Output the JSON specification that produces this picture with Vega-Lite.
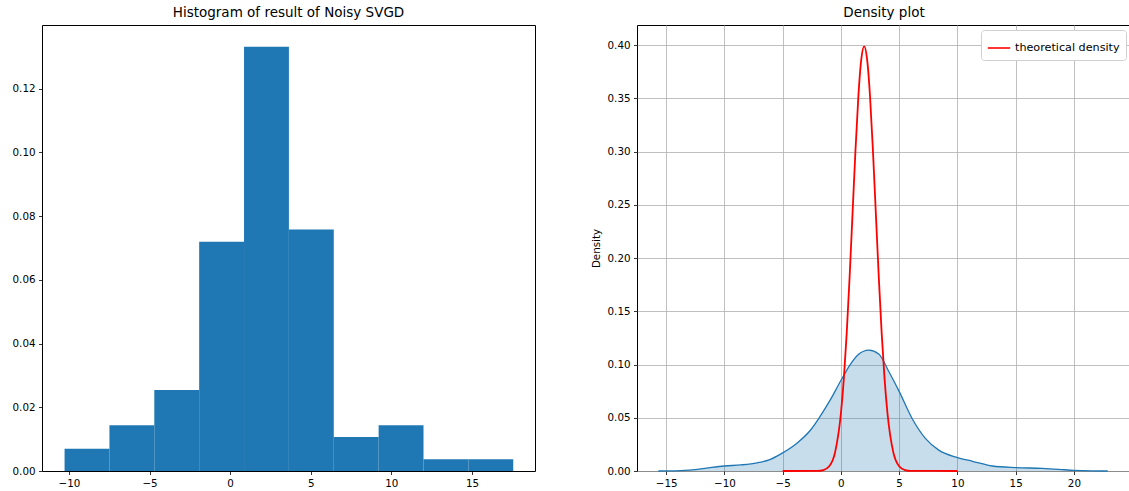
{
  "$schema": "https://vega.github.io/schema/vega-lite/v6.json",
  "background": "white",
  "padding": {"left": 11, "top": 5, "right": 0, "bottom": 0},
  "spacing": 54,
  "resolve": {"legend": {"color": "independent"}},
  "config": {
    "font": "DejaVu Sans",
    "view": {"stroke": "black", "strokeWidth": 1},
    "axis": {
      "labelFont": "DejaVu Sans", "labelFontSize": 10.3, "labelColor": "black",
      "tickColor": "black", "tickSize": 3.5, "tickWidth": 0.8, "labelPadding": 3.5,
      "domain": false, "grid": false,
      "titleFont": "DejaVu Sans", "titleFontSize": 10.3, "titleFontWeight": "normal", "titleColor": "black"
    },
    "title": {"font": "DejaVu Sans", "fontSize": 13.5, "fontWeight": "normal", "color": "black", "offset": 6}
  },
  "datasets": {
    "hist": [
      {"bin_start": -10.27, "bin_end": -7.487, "density": 0.0070},
      {"bin_start": -7.487, "bin_end": -4.704, "density": 0.0144},
      {"bin_start": -4.704, "bin_end": -1.921, "density": 0.0254},
      {"bin_start": -1.921, "bin_end": 0.862, "density": 0.0720},
      {"bin_start": 0.862, "bin_end": 3.645, "density": 0.1332},
      {"bin_start": 3.645, "bin_end": 6.428, "density": 0.0758},
      {"bin_start": 6.428, "bin_end": 9.211, "density": 0.0107},
      {"bin_start": 9.211, "bin_end": 11.994, "density": 0.0144},
      {"bin_start": 11.994, "bin_end": 14.777, "density": 0.0037},
      {"bin_start": 14.777, "bin_end": 17.56, "density": 0.0037}
    ],
    "kde": [
      {"x": -15.67, "y": 0.0},
      {"x": -15.0, "y": 0.0001},
      {"x": -13.8, "y": 0.0004},
      {"x": -12.3, "y": 0.0016},
      {"x": -11.2, "y": 0.0032},
      {"x": -10.0, "y": 0.0047},
      {"x": -8.6, "y": 0.0057},
      {"x": -7.2, "y": 0.0076},
      {"x": -6.1, "y": 0.0107},
      {"x": -5.0, "y": 0.0170},
      {"x": -3.8, "y": 0.0259},
      {"x": -2.6, "y": 0.0385},
      {"x": -1.8, "y": 0.0510},
      {"x": -0.9, "y": 0.0670},
      {"x": 0.0, "y": 0.0850},
      {"x": 0.8, "y": 0.1000},
      {"x": 1.5, "y": 0.1095},
      {"x": 2.4, "y": 0.1136},
      {"x": 3.25, "y": 0.1100},
      {"x": 4.1, "y": 0.0937},
      {"x": 5.0, "y": 0.0748},
      {"x": 6.1, "y": 0.0495},
      {"x": 7.25, "y": 0.0306},
      {"x": 8.4, "y": 0.0196},
      {"x": 10.0, "y": 0.0126},
      {"x": 11.3, "y": 0.0091},
      {"x": 13.0, "y": 0.0047},
      {"x": 15.0, "y": 0.0032},
      {"x": 17.3, "y": 0.0025},
      {"x": 18.7, "y": 0.0016},
      {"x": 20.0, "y": 0.0006},
      {"x": 21.5, "y": 0.0001},
      {"x": 22.9, "y": 0.0}
    ],
    "theory": [
      {"x": -5.0, "y": 0.0},
      {"x": -2.0, "y": 0.0001},
      {"x": -1.5, "y": 0.0009},
      {"x": -1.0, "y": 0.0044},
      {"x": -0.5, "y": 0.0175},
      {"x": 0.0, "y": 0.0540},
      {"x": 0.25, "y": 0.0863},
      {"x": 0.5, "y": 0.1295},
      {"x": 0.75, "y": 0.1826},
      {"x": 1.0, "y": 0.2420},
      {"x": 1.25, "y": 0.3011},
      {"x": 1.5, "y": 0.3521},
      {"x": 1.75, "y": 0.3867},
      {"x": 2.0, "y": 0.3989},
      {"x": 2.25, "y": 0.3867},
      {"x": 2.5, "y": 0.3521},
      {"x": 2.75, "y": 0.3011},
      {"x": 3.0, "y": 0.2420},
      {"x": 3.25, "y": 0.1826},
      {"x": 3.5, "y": 0.1295},
      {"x": 3.75, "y": 0.0863},
      {"x": 4.0, "y": 0.0540},
      {"x": 4.5, "y": 0.0175},
      {"x": 5.0, "y": 0.0044},
      {"x": 5.5, "y": 0.0009},
      {"x": 6.0, "y": 0.0001},
      {"x": 10.0, "y": 0.0}
    ]
  },
  "hconcat": [
    {
      "title": "Histogram of result of Noisy SVGD",
      "width": 493,
      "height": 446,
      "data": {"name": "hist"},
      "mark": {"type": "rect", "color": "#1f77b4"},
      "encoding": {
        "x": {"field": "bin_start", "type": "quantitative",
              "scale": {"domain": [-11.67, 18.91], "nice": false, "zero": false},
              "axis": {"values": [-10, -5, 0, 5, 10, 15], "format": "d", "title": null}},
        "x2": {"field": "bin_end"},
        "y": {"field": "density", "type": "quantitative",
              "scale": {"domain": [0, 0.14], "nice": false},
              "axis": {"values": [0, 0.02, 0.04, 0.06, 0.08, 0.1, 0.12], "format": ".2f", "title": null}},
        "y2": {"datum": 0}
      }
    },
    {
      "title": "Density plot",
      "width": 494,
      "height": 446,
      "encoding": {
        "x": {"field": "x", "type": "quantitative",
              "scale": {"domain": [-17.5, 24.9], "nice": false, "zero": false},
              "axis": {"values": [-15, -10, -5, 0, 5, 10, 15, 20], "format": "d", "title": null,
                       "grid": true, "gridColor": "#b0b0b0", "gridWidth": 0.8}},
        "y": {"field": "y", "type": "quantitative",
              "scale": {"domain": [0, 0.419], "nice": false},
              "axis": {"values": [0, 0.05, 0.1, 0.15, 0.2, 0.25, 0.3, 0.35, 0.4], "format": ".2f",
                       "title": "Density", "titlePadding": 6,
                       "grid": true, "gridColor": "#b0b0b0", "gridWidth": 0.8}}
      },
      "layer": [
        {
          "data": {"name": "kde"},
          "mark": {"type": "area", "color": "#1f77b4", "fillOpacity": 0.25, "interpolate": "monotone"}
        },
        {
          "data": {"name": "kde"},
          "mark": {"type": "line", "color": "#1f77b4", "strokeWidth": 1.3, "interpolate": "monotone"}
        },
        {
          "data": {"name": "theory"},
          "mark": {"type": "line", "strokeWidth": 1.8, "interpolate": "monotone"},
          "encoding": {
            "color": {"datum": "theoretical density", "type": "nominal",
                      "scale": {"range": ["red"]},
                      "legend": {"title": null, "orient": "top-right", "offset": 5,
                                 "padding": 6, "fillColor": "white", "strokeColor": "#d0d0d0",
                                 "cornerRadius": 3, "labelFontSize": 11.2, "labelColor": "black",
                                 "labelFont": "DejaVu Sans",
                                 "symbolType": "stroke", "symbolStrokeWidth": 1.6, "symbolSize": 500}}
          }
        }
      ]
    }
  ]
}
